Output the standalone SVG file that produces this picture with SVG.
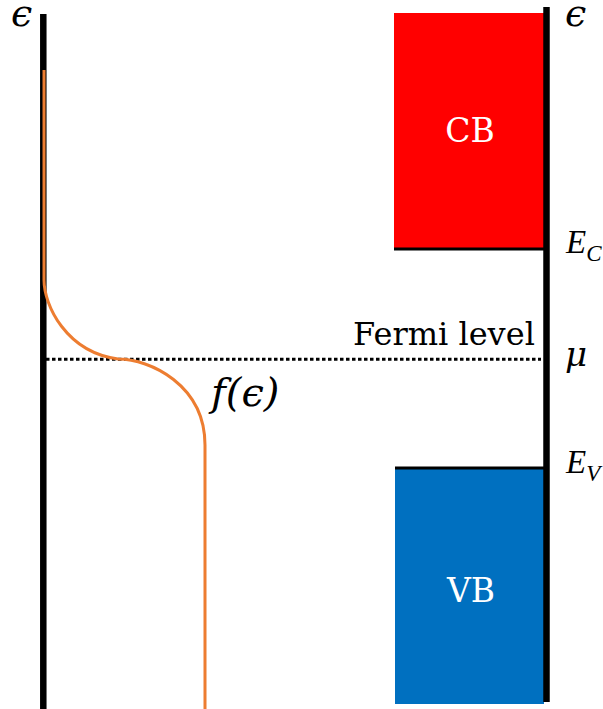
<svg xmlns="http://www.w3.org/2000/svg" width="603" height="709" viewBox="0 0 603 709">
<style>
.axis{stroke:#000;stroke-width:6.5;fill:none}
.edge{stroke:#000;stroke-width:3;fill:none}
.math{font-family:"Liberation Serif","DejaVu Serif",serif;font-style:italic;fill:#000}
.eps{font-family:"DejaVu Serif","Liberation Serif",serif;font-style:italic;fill:#000}
.band{font-family:"DejaVu Serif","Liberation Serif",serif;fill:#fff;text-anchor:middle}
</style>
<rect width="603" height="709" fill="#fff"/>
<g id="cb">
<rect x="394" y="13" width="150" height="235" fill="#FF0000"/>
<text class="band" x="470" y="142" font-size="33">CB</text>
</g>
<g id="vb">
<rect x="395" y="469" width="149" height="235" fill="#0070C0"/>
<text class="band" x="471" y="602" font-size="33">VB</text>
</g>
<g id="connectors">
<line class="axis" x1="43.3" y1="14" x2="43.3" y2="709"/>
<line class="axis" x1="546.5" y1="7" x2="546.5" y2="702"/>
<line class="edge" x1="394" y1="249" x2="545" y2="249"/>
<line class="edge" x1="395" y1="468" x2="545" y2="468"/>
<line x1="46" y1="359.3" x2="541" y2="359.3" stroke="#000" stroke-width="3" stroke-dasharray="3.5 2.5"/>
<path d="M44,70 L44,280 C44,305 66,352 118,359 C150,359 205,385 205,445 L205,709" fill="none" stroke="#ED7D31" stroke-width="3"/>
</g>
<g id="labels">
<text class="eps" x="11" y="26" font-size="38">ϵ</text>
<text class="eps" x="565" y="26" font-size="38">ϵ</text>
<text class="math" x="566" y="253" font-size="33">E<tspan font-size="23" dy="8">C</tspan></text>
<text class="eps" x="565" y="366" font-size="34">μ</text>
<text class="math" x="566" y="473" font-size="33">E<tspan font-size="23" dy="8">V</tspan></text>
<text class="eps" x="211" y="406" font-size="40">f(ϵ)</text>
<text x="353" y="345" font-family="DejaVu Serif, Liberation Serif, serif" font-size="32" fill="#000">Fermi level</text>
</g>
</svg>
